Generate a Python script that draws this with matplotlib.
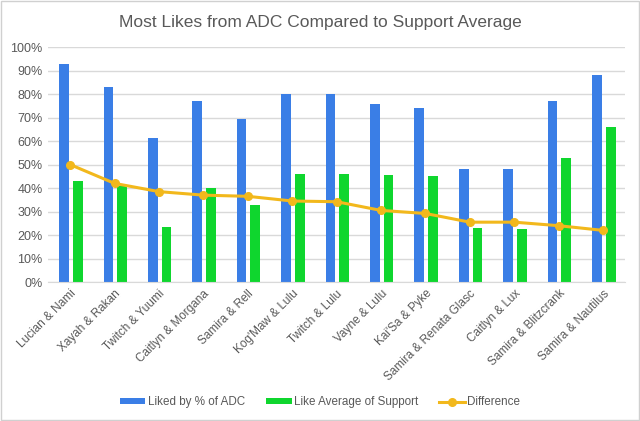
import matplotlib.pyplot as plt
import numpy as np

plt.rcParams['font.family'] = ['Liberation Sans', 'DejaVu Sans']

# chart values
pairs = ["Lucian & Nami", "Xayah & Rakan", "Twitch & Yuumi", "Caitlyn & Morgana",
         "Samira & Rell", "Kog'Maw & Lulu", "Twitch & Lulu", "Vayne & Lulu",
         "Kai'Sa & Pyke", "Samira & Renata Glasc", "Caitlyn & Lux",
         "Samira & Blitzcrank", "Samira & Nautilus"]
adc_liked = [93, 83, 61.5, 77, 69.5, 80, 80, 76, 74, 48, 48, 77, 88]
support_avg = [43, 41, 23.5, 40, 33, 46, 46, 45.5, 45, 23, 22.5, 53, 66]
difference = [50, 42, 38.5, 37, 36.5, 34.5, 34.2, 30.5, 29.2, 25.5, 25.5, 24, 22]

blue = "#3a7ee6"
green = "#0fd62e"
gold = "#f2b81c"
txt = "#595959"

fig = plt.figure(figsize=(6.4, 4.21), dpi=100)
ax = fig.add_axes([0.075, 0.33, 0.902, 0.558])

x = np.arange(len(pairs))
w = 0.22
b1 = ax.bar(x - 0.14, adc_liked, w, color=blue, label="Liked by % of ADC", zorder=2)
b2 = ax.bar(x + 0.17, support_avg, w, color=green, label="Like Average of Support", zorder=2)
l1, = ax.plot(x, difference, color=gold, lw=2.2, marker="o", ms=5.5, label="Difference", zorder=3)

ax.set_xlim(-0.5, len(pairs) - 0.5)
ax.set_ylim(0, 100)
ax.set_yticks(range(0, 101, 10))
ax.set_yticklabels([f"{v}%" for v in range(0, 101, 10)], fontsize=9, color=txt)
ax.set_xticks(x)
ax.set_xticklabels(pairs, rotation=45, ha="right", rotation_mode="anchor",
                   fontsize=8.5, color=txt)
ax.tick_params(length=0, pad=4)
ax.grid(axis="y", color="#d9d9d9", lw=1, zorder=0)
for s in ax.spines.values():
    s.set_visible(False)
ax.spines["bottom"].set_visible(True)
ax.spines["bottom"].set_color("#d9d9d9")

fig.suptitle("Most Likes from ADC Compared to Support Average", y=0.965,
             fontsize=12.5, color=txt)
fig.legend(handles=[b1, b2, l1], loc="center", bbox_to_anchor=(0.5, 0.045), ncol=3,
           frameon=False, fontsize=8.4, labelcolor=txt, handlelength=2.2,
           handleheight=0.35, handletextpad=0.2, columnspacing=1.8)

fig.patches.append(plt.Rectangle((0.002, 0.002), 0.996, 0.996, transform=fig.transFigure,
                                 fill=False, edgecolor="#d0d0d0", lw=1))

fig.savefig("out.png", dpi=100)
